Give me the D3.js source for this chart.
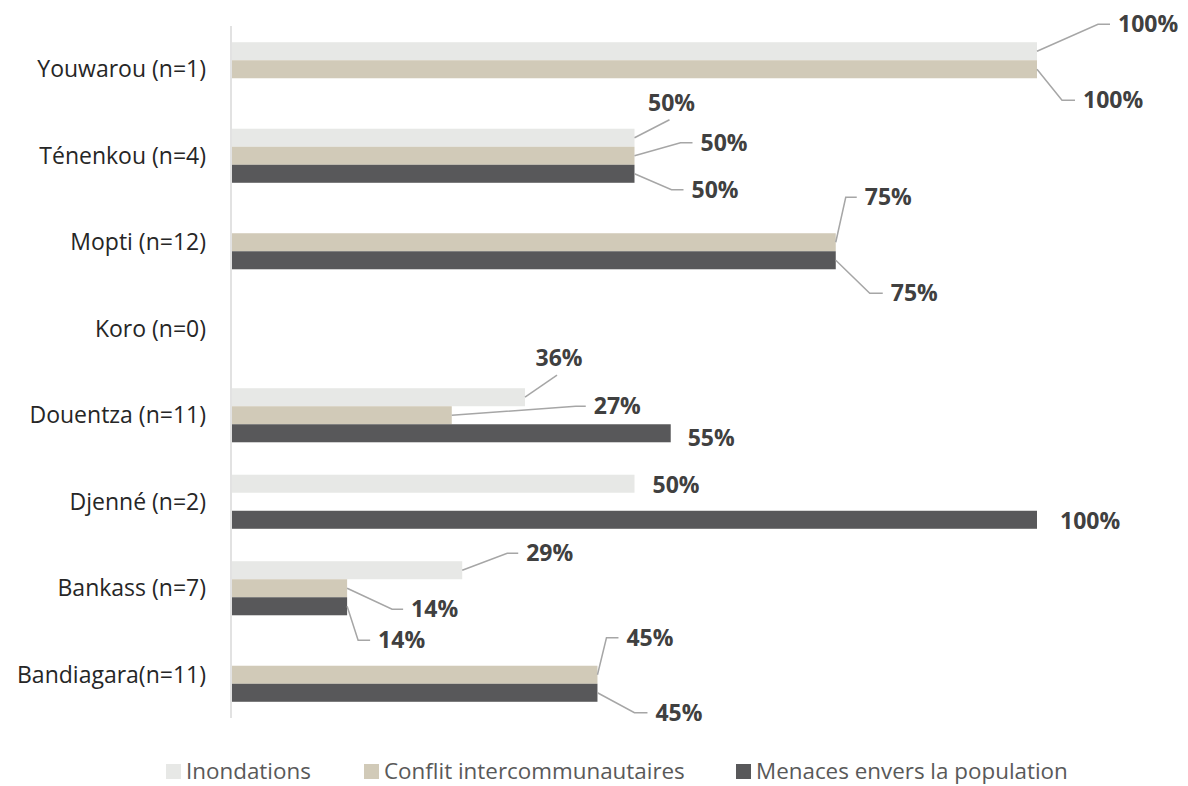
<!DOCTYPE html>
<html>
<head>
<meta charset="utf-8">
<script src="https://cdn.jsdelivr.net/npm/d3@7"></script>
<style>
  body { margin: 0; background: #fff; overflow: hidden; }
  svg { display: block; font-family: "Open Sans", "Noto Sans", sans-serif; }
  .cat-label { font-size: 23px; fill: #262626; }
  .val-label { font-size: 23px; font-weight: bold; fill: #404040; }
  .legend-text { font-size: 22.4px; fill: #595959; }
</style>
</head>
<body>
<div id="chart"></div>
<script>
var categories = ["Youwarou (n=1)", "Ténenkou (n=4)", "Mopti (n=12)", "Koro (n=0)",
    "Douentza (n=11)", "Djenné (n=2)", "Bankass (n=7)", "Bandiagara(n=11)"];
var series = ["Inondations", "Conflit intercommunautaires", "Menaces envers la population"];
var inondations = [1.00, 0.50, null, null, 0.364, 0.50, 0.286, null];
var conflit     = [1.00, 0.50, 0.75, null, 0.273, null, 0.143, 0.454];
var menaces     = [null, 0.50, 0.75, null, 0.545, 1.00, 0.143, 0.454];
var colors = ["#E7E8E6", "#D1CAB8", "#58585A"];

// label placement: [category, series, elbow dx, elbow dy, horizontal tail, type]
var labelLayout = [
    [0, 0, 61, -27, 12, "leader"],
    [0, 1, 25, 31, 13, "leader"],
    [1, 0, 35, -18, 0, "above"],
    [1, 1, 46, -13, 12, "leader"],
    [1, 2, 37, 16, 12, "leader"],
    [2, 1, 10, -45, 11, "leader"],
    [2, 2, 34, 33, 13, "leader"],
    [4, 0, 32, -22, 0, "above"],
    [4, 1, 124, -9, 10, "leader"],
    [4, 2, 17, 5, 0, "plain"],
    [5, 0, 18, 1, 0, "plain"],
    [5, 2, 23, 1, 0, "plain"],
    [6, 0, 45, -17, 11, "leader"],
    [6, 1, 45, 21, 11, "leader"],
    [6, 2, 11, 34, 12, "leader"],
    [7, 1, 9, -37, 12, "leader"],
    [7, 2, 37, 20, 13, "leader"]
];

var values = [inondations, conflit, menaces];

var width = 1188, height = 786;
var svg = d3.select("#chart").append("svg")
    .attr("width", width)
    .attr("height", height);

var xScale = d3.scaleLinear().domain([0, 1]).range([232, 1037]);

var yScale = d3.scaleBand()
    .domain(categories)
    .range([26, 718])
    .paddingInner(0.375)
    .paddingOuter(0.1875);

var subScale = d3.scaleBand()
    .domain(series)
    .range([0, yScale.bandwidth()]);

var bars = [];
categories.forEach(function(c, i) {
    series.forEach(function(s, j) {
        if (values[j][i] != null) bars.push({ cat: c, ci: i, ser: s, si: j, value: values[j][i] });
    });
});

svg.selectAll(".bar")
    .data(bars)
    .enter()
    .append("rect")
    .attr("class", "bar")
    .attr("x", xScale(0))
    .attr("y", function(d) { return yScale(d.cat) + subScale(d.ser); })
    .attr("width", function(d) { return xScale(d.value) - xScale(0); })
    .attr("height", subScale.bandwidth())
    .attr("fill", function(d) { return colors[d.si]; });

// vertical axis line
svg.append("line")
    .attr("x1", 231).attr("x2", 231)
    .attr("y1", yScale.range()[0]).attr("y2", yScale.range()[1])
    .attr("stroke", "#d9d9d9")
    .attr("stroke-width", 1.5);

svg.selectAll(".cat-label")
    .data(categories)
    .enter()
    .append("text")
    .attr("class", "cat-label")
    .attr("x", 206)
    .attr("y", function(d) { return yScale(d) + yScale.bandwidth() / 2; })
    .attr("dy", "0.35em")
    .attr("text-anchor", "end")
    .text(function(d) { return d; });

var fmt = d3.format(".0%");

labelLayout.forEach(function(l) {
    var ci = l[0], si = l[1];
    var v = values[si][ci];
    var bx = xScale(v);
    var by = yScale(categories[ci]) + subScale(series[si]) + subScale.bandwidth() / 2;
    var ex = bx + l[2], ey = by + l[3];

    if (l[5] === "leader") {
        svg.append("path")
            .attr("d", "M" + bx + "," + by + "L" + ex + "," + ey + "L" + (ex + l[4]) + "," + ey)
            .attr("fill", "none")
            .attr("stroke", "#a6a6a6")
            .attr("stroke-width", 1.5);
        svg.append("text")
            .attr("class", "val-label")
            .attr("x", ex + l[4] + 8)
            .attr("y", ey)
            .attr("dy", "0.35em")
            .text(fmt(v));
    } else if (l[5] === "above") {
        svg.append("path")
            .attr("d", "M" + bx + "," + by + "L" + ex + "," + ey)
            .attr("fill", "none")
            .attr("stroke", "#a6a6a6")
            .attr("stroke-width", 1.5);
        svg.append("text")
            .attr("class", "val-label")
            .attr("x", ex + 2)
            .attr("y", ey - 17)
            .attr("dy", "0.35em")
            .attr("text-anchor", "middle")
            .text(fmt(v));
    } else {
        svg.append("text")
            .attr("class", "val-label")
            .attr("x", bx + l[2])
            .attr("y", by + l[3])
            .attr("dy", "0.35em")
            .text(fmt(v));
    }
});

// legend
var legendX = [166, 364, 736];
var legend = svg.selectAll(".legend")
    .data(series)
    .enter()
    .append("g")
    .attr("class", "legend")
    .attr("transform", function(d, i) { return "translate(" + legendX[i] + ",771)"; });

legend.append("rect")
    .attr("x", 0).attr("y", -7)
    .attr("width", 15).attr("height", 15)
    .attr("fill", function(d, i) { return colors[i]; });

legend.append("text")
    .attr("class", "legend-text")
    .attr("x", 20)
    .attr("dy", "0.35em")
    .text(function(d) { return d; });
</script>
</body>
</html>
